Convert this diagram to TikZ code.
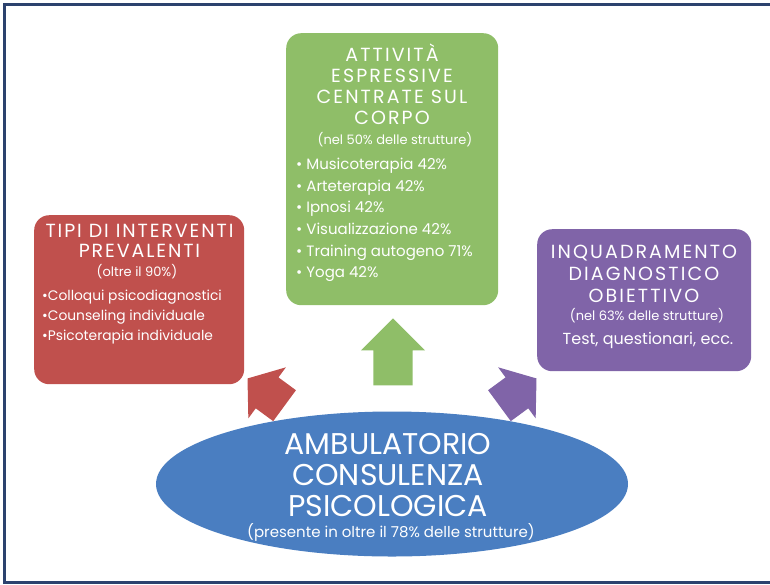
\documentclass[tikz,border=0pt]{standalone}
\usepackage{fontspec}
\setmainfont{Poppins}
\usetikzlibrary{shapes.geometric,shapes.arrows,positioning}

\definecolor{boxred}{RGB}{192,80,77}
\definecolor{boxgreen}{RGB}{143,190,104}
\definecolor{boxpurple}{RGB}{128,100,168}
\definecolor{ovalblue}{RGB}{74,126,193}
\definecolor{framenavy}{RGB}{44,66,110}

\begin{document}
\begin{tikzpicture}[
  x=1pt,
  y=-1pt,
  panel/.style={rounded corners=15pt, inner sep=0pt, anchor=north west},
  heading/.style={text=white, align=center, inner sep=0pt, font=\fontsize{19}{21.5}\selectfont\addfontfeature{LetterSpace=11}},
  note/.style={text=white, inner sep=0pt, font=\fontsize{13}{15}\selectfont},
  items/.style={text=white, align=left, inner sep=0pt, font=\fontsize{15}{21.6}\selectfont},
  blockarrow/.style={single arrow, inner xsep=0pt, inner ysep=19pt, anchor=tip, single arrow head extend=12.5pt}
]
  \useasboundingbox (0,0) rectangle (770,584);
  \draw[framenavy, line width=2.8pt] (4.7,4.7) rectangle (790,582.8);

  % boxes
  \node[panel, fill=boxgreen, minimum width=212pt, minimum height=272pt] (corpo) at (286,33) {};
  \node[panel, fill=boxred, minimum width=210pt, minimum height=169pt] (tipi) at (34,215) {};
  \node[panel, fill=boxpurple, minimum width=214pt, minimum height=142pt] (inquad) at (537,229) {};

  % block arrows from the oval
  \node[blockarrow, fill=boxgreen, rotate=90, inner ysep=19.5pt, single arrow tip angle=90, minimum height=67pt] (upgreen) at (393,318) {};
  \node[blockarrow, fill=boxred, rotate=143.7, single arrow tip angle=105, minimum height=46pt] (upred) at (247.3,378.3) {};
  \node[blockarrow, fill=boxpurple, rotate=36.3, single arrow tip angle=105, minimum height=46pt] (uppurple) at (536.7,378.3) {};

  \node[ellipse, fill=ovalblue, inner sep=0pt, minimum width=472pt, minimum height=145pt] (ambul) at (392,484) {};

  % texts
  \node[heading, font=\fontsize{19}{21}\selectfont\addfontfeature{LetterSpace=11}] (tcorpo) at (392,84.5) {ATTIVITÀ\\ESPRESSIVE\\CENTRATE SUL\\CORPO};
  \node[note] (ncorpo) at (395,140) {(nel 50\% delle strutture)};
  \node[items, anchor=west] (lcorpo) at (296,220) {• Musicoterapia 42\%\\• Arteterapia 42\%\\• Ipnosi 42\%\\• Visualizzazione 42\%\\• Training autogeno 71\%\\• Yoga 42\%};

  \node[heading, font=\fontsize{19}{20}\selectfont\addfontfeature{LetterSpace=10}] (ttipi) at (139.5,241) {TIPI DI INTERVENTI\\PREVALENTI};
  \node[note] (ntipi) at (137,272) {(oltre il 90\%)};
  \node[items, anchor=west, font=\fontsize{13.8}{20}\selectfont] (ltipi) at (42,317) {•Colloqui psicodiagnostici\\•Counseling individuale\\•Psicoterapia individuale};

  \node[heading, font=\fontsize{19}{22}\selectfont\addfontfeature{LetterSpace=11}] (tinquad) at (644,274) {INQUADRAMENTO\\DIAGNOSTICO\\OBIETTIVO};
  \node[note] (ninquad) at (647,316) {(nel 63\% delle strutture)};
  \node[note, font=\fontsize{16}{18}\selectfont] (test) at (648,340) {Test, questionari, ecc.};

  \node[heading, font=\fontsize{30}{31}\selectfont] (tambul) at (388,475) {AMBULATORIO\\CONSULENZA\\PSICOLOGICA};
  \node[note, font=\fontsize{15}{17}\selectfont] (nambul) at (391,532) {(presente in oltre il 78\% delle strutture)};
\end{tikzpicture}
\end{document}
